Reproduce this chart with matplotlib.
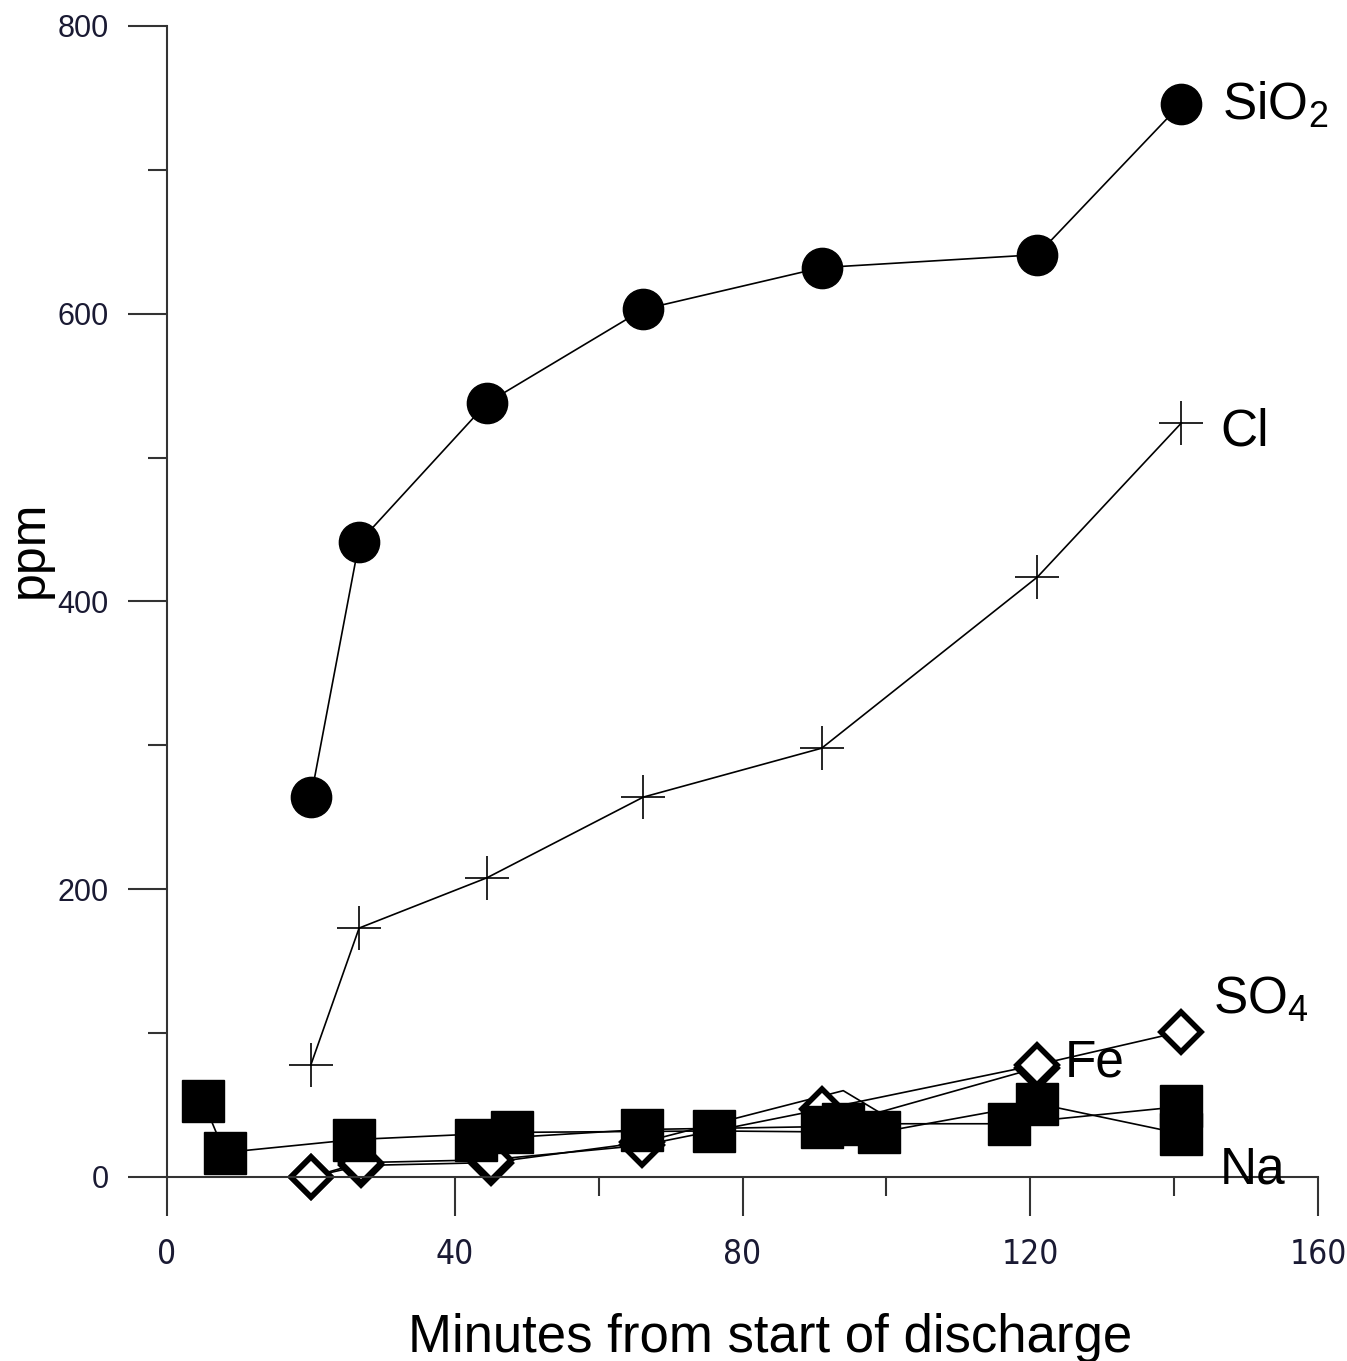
import matplotlib
matplotlib.use("Agg")
import matplotlib.pyplot as plt
from matplotlib import font_manager
from matplotlib.ticker import MultipleLocator

plt.rcParams['font.family'] = ['Liberation Sans', 'DejaVu Sans']
plt.rcParams['mathtext.default'] = 'regular'

# values (minutes, ppm)
sio2_t = [20, 26.7, 44.5, 66.2, 91, 121, 141]
sio2_v = [264, 441, 538, 603, 632, 641, 746]

cl_t = [20, 26.7, 44.5, 66.2, 91, 121, 141]
cl_v = [78, 173, 208, 264, 298, 417, 524]

so4_t = [20, 27, 45, 66, 91, 121, 141]
so4_v = [0, 10, 12, 22, 47, 78, 101]

fe_t = [20, 27, 45, 66, 94, 99, 121]
fe_v = [0, 8, 10, 24, 60, 45, 76]

na_t = [5, 8, 26, 48, 76, 99, 121, 141]
na_v = [53, 17, 26, 31, 32, 31, 51, 30]

k_t = [43, 66, 91, 94, 117, 141]
k_v = [26, 33, 35, 37, 37, 49]

labels = ['SiO$_2$', 'Cl', 'SO$_4$', 'Fe', 'Na']
label_x = [146.6, 146.4, 145.4, 124.8, 146.4]
label_y = [745, 518, 123, 79, 5]

fig = plt.figure(figsize=(13.47, 13.61), dpi=100)
ax = fig.add_axes([0.124, 0.1352, 0.8545, 0.8458])

lw = 1.2
ax.plot(fe_t, fe_v, color='k', lw=lw, marker='D', ms=20, mfc='white', mec='k', mew=4,
        markevery=[0, 1, 2, 3, 6], clip_on=False, zorder=2)
ax.plot(so4_t, so4_v, color='k', lw=lw, marker='D', ms=20, mfc='white', mec='k', mew=4,
        clip_on=False, zorder=2)
ax.plot(na_t, na_v, color='k', lw=lw, marker='s', ms=30, mfc='k', mec='k', clip_on=False, zorder=3)
ax.plot(k_t, k_v, color='k', lw=lw, marker='s', ms=30, mfc='k', mec='k', clip_on=False, zorder=3)
ax.plot(cl_t, cl_v, color='k', lw=lw, marker='+', ms=32, mew=1.2, clip_on=False)
ax.plot(sio2_t, sio2_v, color='k', lw=lw, marker='o', ms=29, mfc='k', mec='k', clip_on=False)

for txt, tx, ty in zip(labels, label_x, label_y):
    ax.text(tx, ty, txt, fontsize=37, ha='left', va='center', color='k')

ax.set_xlim(0, 160)
ax.set_ylim(0, 800)
for s in ['top', 'right']:
    ax.spines[s].set_visible(False)
for s in ['left', 'bottom']:
    ax.spines[s].set_color('#333333')
    ax.spines[s].set_linewidth(1.5)

ax.xaxis.set_major_locator(MultipleLocator(40))
ax.xaxis.set_minor_locator(MultipleLocator(20))
ax.yaxis.set_major_locator(MultipleLocator(200))
ax.yaxis.set_minor_locator(MultipleLocator(100))
ax.tick_params(which='major', direction='out', length=28, width=1.5, color='#333333',
               labelcolor='#1a1a33')
ax.tick_params(which='minor', direction='out', length=14, width=1.5, color='#333333')
ax.tick_params(axis='y', which='major', pad=14, labelsize=22)
ax.tick_params(axis='x', which='major', pad=16, labelsize=26)

# x tick labels in the reference are tall and narrow
names = {f.name for f in font_manager.fontManager.ttflist}
narrow = 'Liberation Sans Narrow' if 'Liberation Sans Narrow' in names else 'DejaVu Sans'
for lab in ax.get_xticklabels():
    lab.set_family(narrow)
    if narrow == 'DejaVu Sans':
        lab.set_fontstretch('condensed')
        lab.set_fontsize(24)

ax.set_xlabel('Minutes from start of discharge', fontsize=38, color='k')
ax.xaxis.set_label_coords(0.524, -0.118)
ax.set_ylabel('ppm', fontsize=36, color='k')
ax.yaxis.set_label_coords(-0.099, 0.545)

fig.savefig('out.png', dpi=100)
